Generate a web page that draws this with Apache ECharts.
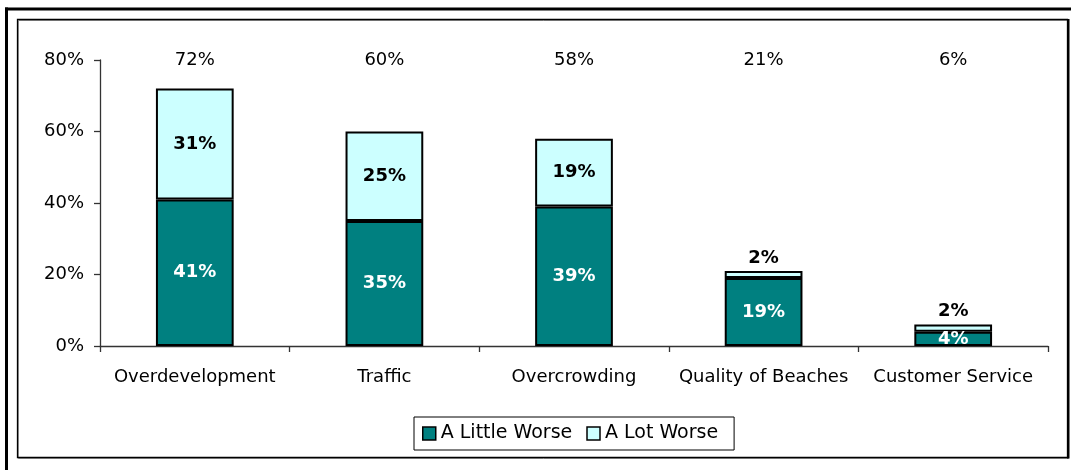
<!DOCTYPE html>
<html>
<head>
<meta charset="utf-8">
<script src="https://cdn.jsdelivr.net/npm/echarts@6/dist/echarts.min.js"></script>
<style>
  html, body { margin: 0; padding: 0; background: #fff; }
  #chart { width: 1071px; height: 470px; }
</style>
</head>
<body>
<div id="chart"></div>
<script>
// Problem areas, share of respondents rating each as worse
const categories = ['Overdevelopment', 'Traffic', 'Overcrowding', 'Quality of Beaches', 'Customer Service'];
const littleWorse = [41, 35, 39, 19, 4];
const lotWorse = [31, 25, 19, 2, 2];
const yTicks = [0, 20, 40, 60, 80];

const yMin = yTicks[0];
const yMax = yTicks[yTicks.length - 1];
const yStep = yTicks[1] - yTicks[0];
const totals = littleWorse.map((v, i) => v + lotWorse[i]);

const FONT = '"DejaVu Sans", Arial, sans-serif';
const chart = echarts.init(document.getElementById('chart'), null, { renderer: 'canvas' });

const insideLabel = (color) => ({
  show: true,
  position: 'inside',
  color: color,
  fontFamily: FONT,
  fontWeight: 'bold',
  fontSize: 18,
  formatter: (p) => p.value + '%'
});

chart.setOption({
  backgroundColor: '#ffffff',
  animation: false,
  grid: { left: 100, right: 23, top: 60, bottom: 124 },
  legend: {
    data: ['A Little Worse', 'A Lot Worse'],
    left: 414,
    top: 417,
    orient: 'horizontal',
    icon: 'rect',
    itemWidth: 13,
    itemHeight: 13,
    itemGap: 14,
    padding: [7, 16, 7, 8],
    borderColor: '#000',
    borderWidth: 1,
    backgroundColor: '#fff',
    textStyle: { fontFamily: FONT, fontSize: 19, color: '#000' },
    itemStyle: { borderColor: '#000', borderWidth: 1.5 }
  },
  xAxis: {
    type: 'category',
    data: categories,
    boundaryGap: true,
    axisLine: { lineStyle: { color: '#333', width: 1.3 } },
    axisTick: { show: true, length: 6, alignWithLabel: false, lineStyle: { color: '#333', width: 1.3 } },
    axisLabel: { margin: 22, color: '#000', fontFamily: FONT, fontSize: 18, interval: 0 }
  },
  yAxis: {
    type: 'value',
    min: yMin,
    max: yMax,
    interval: yStep,
    splitLine: { show: false },
    axisLine: { show: true, lineStyle: { color: '#333', width: 1.3 } },
    axisTick: { show: true, inside: false, length: 6, lineStyle: { color: '#333', width: 1.3 } },
    axisLabel: { margin: 16, color: '#000', fontFamily: FONT, fontSize: 18, formatter: '{value}%' }
  },
  series: [
    {
      name: 'A Little Worse',
      type: 'bar',
      stack: 'total',
      barWidth: '41%',
      itemStyle: { color: '#008080', borderColor: '#000', borderWidth: 2 },
      label: insideLabel('#ffffff'),
      data: littleWorse
    },
    {
      name: 'A Lot Worse',
      type: 'bar',
      stack: 'total',
      barWidth: '41%',
      itemStyle: { color: '#CCFFFF', borderColor: '#000', borderWidth: 2 },
      label: insideLabel('#000000'),
      // thin segments carry their label just above the bar
      data: lotWorse.map((v) => v < 5
        ? { value: v, label: { position: 'top', distance: 4 } }
        : v)
    },
    {
      name: 'Total',
      type: 'scatter',
      symbolSize: 0,
      silent: true,
      z: 5,
      itemStyle: { opacity: 1 },
      label: {
        show: true,
        position: 'inside',
        color: '#000',
        fontFamily: FONT,
        fontSize: 18,
        formatter: (p) => totals[p.dataIndex] + '%'
      },
      data: categories.map((c, i) => [i, yMax])
    }
  ],
  graphic: [
    // outer frame
    { type: 'rect', shape: { x: 5, y: 7.5, width: 3, height: 470 }, style: { fill: '#000' }, silent: true },
    { type: 'rect', shape: { x: 5, y: 7.5, width: 1071, height: 3 }, style: { fill: '#000' }, silent: true },
    // inner chart-area border with a soft shadow line
    { type: 'rect', shape: { x: 18.5, y: 20.5, width: 1050, height: 438 }, style: { fill: 'none', stroke: '#999', lineWidth: 1 }, silent: true },
    { type: 'rect', shape: { x: 17.5, y: 19.5, width: 1050, height: 438 }, style: { fill: 'none', stroke: '#000', lineWidth: 1.3 }, silent: true },
    { type: 'rect', shape: { x: 1067, y: 19, width: 2.5, height: 439.5 }, style: { fill: '#000' }, silent: true }
  ]
});
</script>
</body>
</html>
